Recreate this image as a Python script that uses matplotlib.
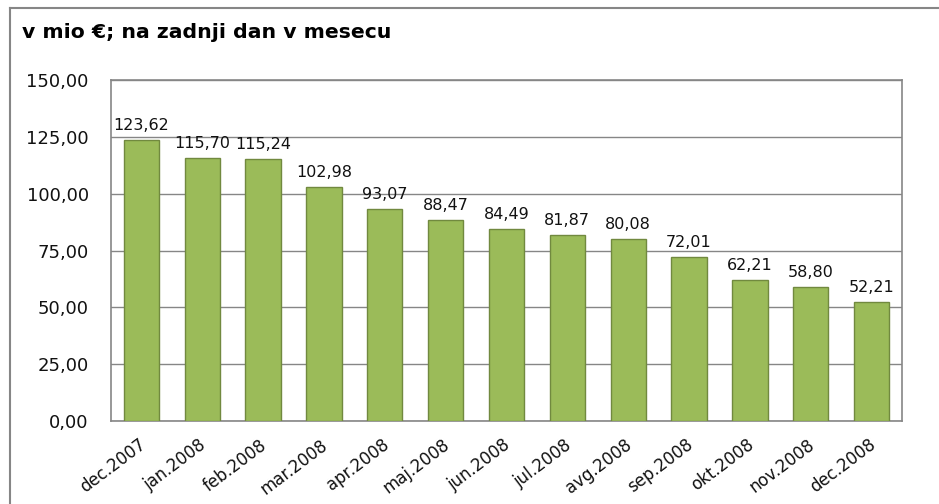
import matplotlib
matplotlib.use("Agg")
import matplotlib.pyplot as plt
from matplotlib.lines import Line2D
from matplotlib.transforms import offset_copy

categories = ["dec.2007", "jan.2008", "feb.2008", "mar.2008", "apr.2008", "maj.2008",
              "jun.2008", "jul.2008", "avg.2008", "sep.2008", "okt.2008", "nov.2008", "dec.2008"]
values = [123.62, 115.70, 115.24, 102.98, 93.07, 88.47, 84.49, 81.87, 80.08, 72.01, 62.21, 58.80, 52.21]
yticks = [0, 25, 50, 75, 100, 125, 150]
title = "v mio €; na zadnji dan v mesecu"

def fmt(v):
    return f"{v:.2f}".replace(".", ",")

plt.rcParams['font.family'] = ['DejaVu Sans']
fig = plt.figure(figsize=(9.39, 5.04), dpi=100)
ax = fig.add_axes([111/939, 1-421/504, 791/939, 341/504])

x = list(range(len(categories)))
bars = ax.bar(x, values, width=0.58, color="#9BBB59", edgecolor="#71893F", linewidth=1, zorder=3)
ax.set_xlim(-0.5, len(categories)-0.5)
ax.set_ylim(0, 150)
ax.set_yticks(yticks)
ax.set_yticklabels([fmt(t) for t in yticks], fontsize=13, color="#111111")
ax.tick_params(axis='y', length=0, pad=16)
ax.yaxis.grid(True, color="#868686", linewidth=1, zorder=0)
ax.set_axisbelow(True)
for s in ax.spines.values():
    s.set_color("#868686")
    s.set_linewidth(1.2)

ax.set_xticks(x)
ax.set_xticklabels([])
ax.tick_params(axis='x', length=0)
for xi, lab in zip(x, categories):
    tr = offset_copy(ax.get_xaxis_transform(), fig=fig, x=2, y=-22, units='dots')
    ax.text(xi, 0, lab, transform=tr, rotation=37, rotation_mode='anchor',
            ha='right', va='center', fontsize=12, color="#111111")

for xi, v in zip(x, values):
    ax.annotate(fmt(v), (xi, v), xytext=(0, 7), textcoords='offset pixels',
                ha='center', va='bottom', fontsize=11.5, color="#111111")

fig.text(22/939, 1-38/504, title, fontsize=14.7, fontweight='bold', ha='left', va='baseline', color="#000000")

fig.add_artist(Line2D([10/939, 1], [1-8/504, 1-8/504], transform=fig.transFigure, color="#868686", linewidth=1.5))
fig.add_artist(Line2D([10/939, 10/939], [0, 1-8/504], transform=fig.transFigure, color="#868686", linewidth=1.5))

fig.savefig("out.png", dpi=100)
